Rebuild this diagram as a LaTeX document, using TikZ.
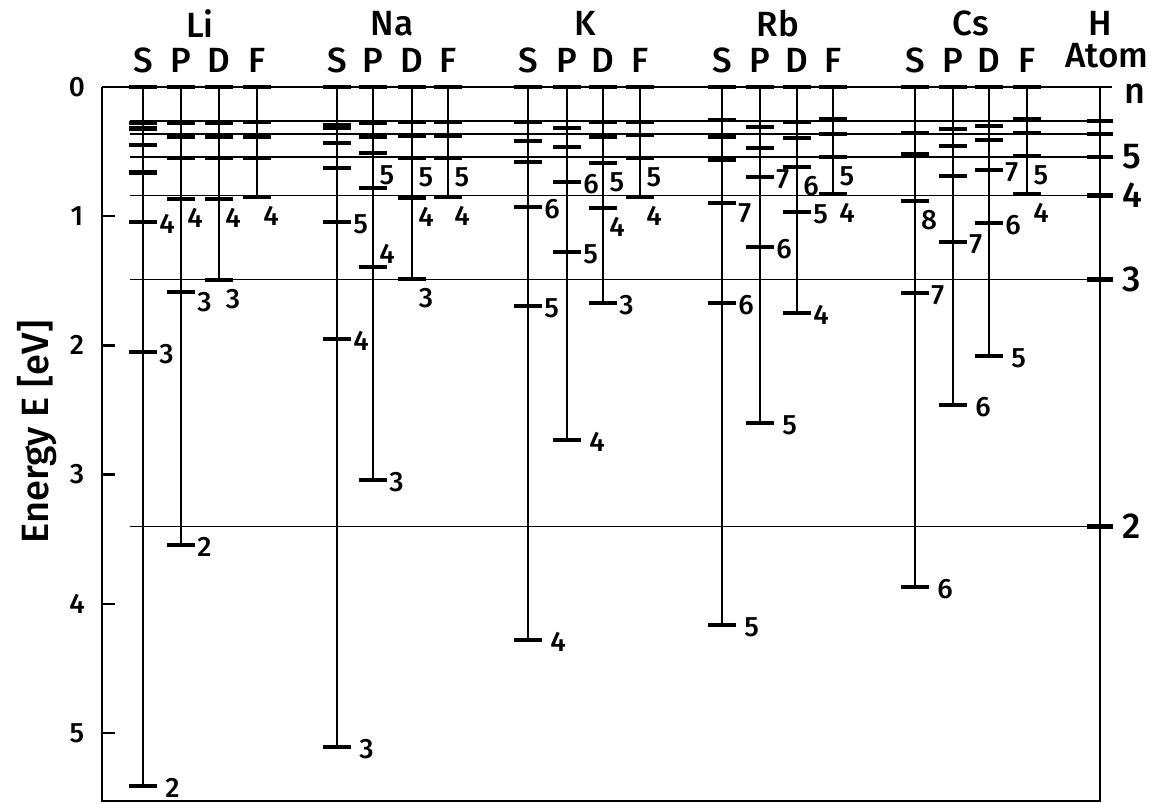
\documentclass[tikz,border=0pt]{standalone}
\usepackage{fontspec}
\setmainfont{Fira Sans Medium}
\usetikzlibrary{positioning}

\begin{document}
\begin{tikzpicture}[x=0.5pt,y=-64.6pt,
    lvl/.style={line width=2.3pt},
    colline/.style={line width=0.9pt},
    hline/.style={line width=0.7pt},
    frame/.style={line width=1.2pt},
    num/.style={font=\fontsize{14}{14}\selectfont,inner sep=0pt},
    hnum/.style={font=\fontsize{18}{18}\selectfont,inner sep=0pt},
    head/.style={font=\fontsize{17.5}{17.5}\selectfont,inner sep=0pt},
    lr/.style={anchor=west,xshift=8pt,yshift=-1pt},
    lw/.style={anchor=west,xshift=11pt,yshift=-1pt},
    ld/.style={anchor=west,xshift=8pt,yshift=-5pt},
    lb/.style={xshift=7pt,yshift=-9.5pt},
    la/.style={xshift=7pt,yshift=6.5pt}]
  \useasboundingbox (0,-0.6734) rectangle (1154,5.5418);
  % --- frame: 0 eV on top, binding energy going down
  \draw[frame] (102,0) -- (1112,0);
  \draw[frame] (102,0) -- (102,5.526) -- (1100,5.526) -- (1100,0);
  \foreach \y in {1,...,5}
    \draw[frame] (102,\y) -- (115,\y);
  \foreach \y in {0,...,5}
    \node[num] (ytick-\y) at (77,\y) {\y};
  \node[rotate=90,inner sep=0pt,font=\fontsize{19}{19}\selectfont] (ylab) at (37,2.67) {Energy E [eV]};
  % --- hydrogen levels n=2..7 across the whole chart
  \foreach \n/\E in {2/3.40,3/1.49,4/0.840,5/0.542,6/0.364,7/0.262}{
    \draw[hline] (130,\E) -- (1100,\E);
    \draw[lvl] (1087,\E) -- (1113,\E);
  }
  \foreach \n/\E in {2/3.40,3/1.49,4/0.840,5/0.542}
    \node[hnum,anchor=west] (h-\n) at (1122,\E) {\n};
  \node[hnum] (h-n) at (1135,0.05) {n};
  % --- alkali columns: x / lowest level / all levels (eV)
  \foreach \x/\Eb/\lst in {
      143/5.41/{0.28,0.32,0.45,0.66,1.045,2.05,5.41},
      181/3.545/{0.279,0.387,0.550,0.867,1.587,3.545},
      219/1.494/{0.279,0.387,0.550,0.867,1.494},
      257/0.851/{0.271,0.387,0.550,0.851},
      337/5.108/{0.294,0.317,0.433,0.627,1.045,1.950,5.108},
      373/3.042/{0.279,0.387,0.511,0.782,1.393,3.042},
      412/1.486/{0.271,0.379,0.550,0.859,1.486},
      448/0.851/{0.271,0.379,0.550,0.851},
      528/4.280/{0.271,0.418,0.580,0.929,1.695,4.280},
      567/2.732/{0.317,0.464,0.735,1.277,2.732},
      603/1.672/{0.271,0.387,0.588,0.937,1.672},
      640/0.851/{0.271,0.372,0.550,0.851},
      722/4.164/{0.255,0.387,0.565,0.898,1.672,4.164},
      760/2.601/{0.310,0.472,0.697,1.238,2.601},
      797/1.749/{0.271,0.395,0.619,0.967,1.749},
      833/0.828/{0.248,0.364,0.542,0.828},
      915/3.870/{0.356,0.519,0.882,1.594,3.870},
      953/2.461/{0.325,0.457,0.689,1.200,2.461},
      989/2.082/{0.302,0.410,0.642,1.053,2.082},
      1027/0.828/{0.248,0.356,0.534,0.828}}{
    \draw[colline] (\x,0) -- (\x,\Eb);
    \draw[lvl] (\x-14,0) -- (\x+14,0);
    \foreach \E in \lst
      \draw[lvl] (\x-14,\E) -- (\x+14,\E);
  }
  % --- principal quantum numbers
  \foreach \x/\E/\n/\p in {
      143/1.045/4/lr, 143/2.05/3/lr, 143/5.41/2/lw,
      181/0.867/4/lb, 181/1.587/3/ld, 181/3.545/2/lr,
      219/0.867/4/lb, 219/1.494/3/lb,
      257/0.851/4/lb,
      337/1.045/5/lr, 337/1.950/4/lr, 337/5.108/3/lw,
      373/0.782/5/la, 373/1.393/4/la, 373/3.042/3/lr,
      412/0.550/5/lb, 412/0.859/4/lb, 412/1.486/3/lb,
      448/0.550/5/lb, 448/0.851/4/lb,
      528/0.929/6/lr, 528/1.695/5/lr, 528/4.280/4/lw,
      567/0.735/6/lr, 567/1.277/5/lr, 567/2.732/4/lw,
      603/0.588/5/lb, 603/0.937/4/lb, 603/1.672/3/lr,
      640/0.550/5/lb, 640/0.851/4/lb,
      722/0.898/7/ld, 722/1.672/6/lr, 722/4.164/5/lw,
      760/0.697/7/lr, 760/1.238/6/lr, 760/2.601/5/lw,
      797/0.619/6/lb, 797/0.967/5/lr, 797/1.749/4/lr,
      833/0.542/5/lb, 833/0.828/4/lb,
      915/0.882/8/lb, 915/1.594/7/lr, 915/3.870/6/lw,
      953/1.200/7/lr, 953/2.461/6/lw,
      989/0.642/7/lr, 989/1.053/6/lr, 989/2.082/5/lw,
      1027/0.534/5/lb, 1027/0.828/4/lb}
    \node[num,\p] (q-\x-\n) at (\x,\E) {\n};
  % --- headings
  \foreach \nm/\x in {Li/200,Na/392,K/585,Rb/778,Cs/971}
    \node[head] (grp-\nm) at (\x,-0.49) {\nm};
  \foreach \x/\s in {143/S,181/P,219/D,257/F,337/S,373/P,412/D,448/F,
                     528/S,567/P,603/D,640/F,722/S,760/P,797/D,833/F,
                     915/S,953/P,989/D,1027/F}
    \node[head] (orb-\x) at (\x,-0.209) {\s};
  \node[head] (grp-H) at (1100,-0.49) {H};
  \node[head] (orb-H) at (1107,-0.24) {Atom};
\end{tikzpicture}
\end{document}
